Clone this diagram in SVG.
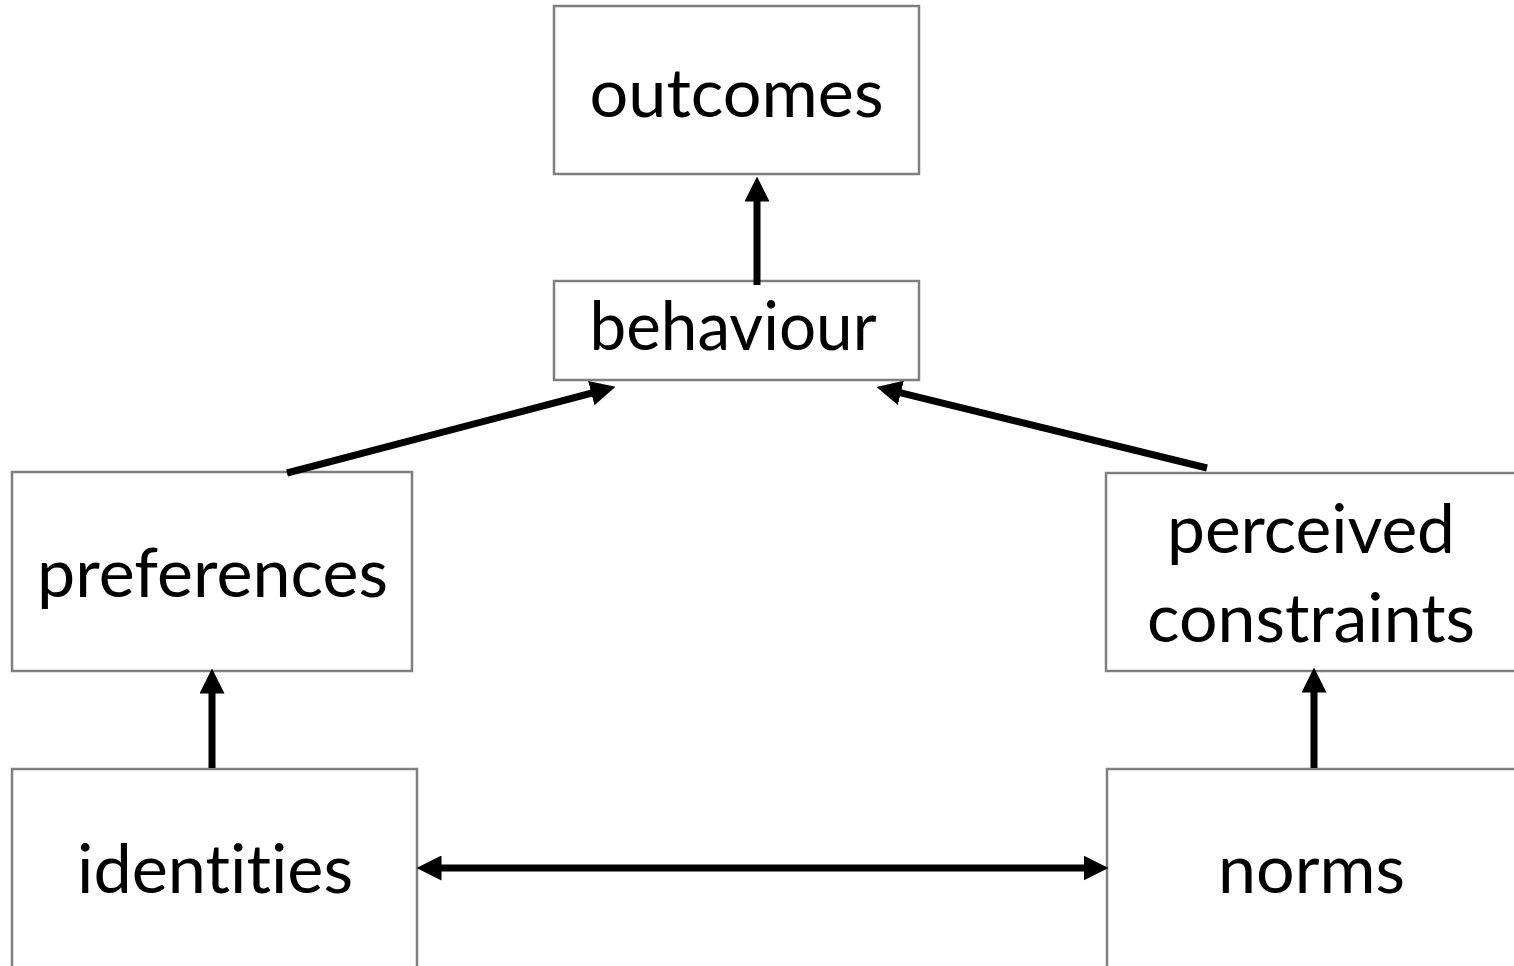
<svg xmlns="http://www.w3.org/2000/svg" width="1514" height="966" viewBox="0 0 1514 966">
<style>
.box{fill:#ffffff;stroke:#7f7f7f;stroke-width:2.5}
.lbl{font-family:Lato,"Open Sans","Liberation Sans",sans-serif;font-size:67px;fill:#000000;text-anchor:middle;font-variant-ligatures:none;font-feature-settings:"liga" 0,"clig" 0}
.con{stroke:#000000;stroke-width:7;fill:none}
</style>
<defs>
<marker id="ah" markerUnits="userSpaceOnUse" markerWidth="25" markerHeight="25" viewBox="0 0 24 24" refX="12" refY="12" orient="auto-start-reverse">
<path d="M0,0 L24,12 L0,24 z" fill="#000000"/>
</marker>
</defs>
<rect width="1514" height="966" fill="#ffffff"/>
<g id="outcomes"><rect class="box" x="554" y="6" width="365" height="168"/><text class="lbl" x="736.5" y="117" textLength="294" lengthAdjust="spacingAndGlyphs">outcomes</text></g>
<g id="behaviour"><rect class="box" x="554" y="281" width="365" height="99"/><text class="lbl" x="733" y="350" textLength="287" lengthAdjust="spacingAndGlyphs">behaviour</text></g>
<g id="preferences"><rect class="box" x="12" y="472" width="400" height="199"/><text class="lbl" x="212.5" y="597" textLength="351" lengthAdjust="spacingAndGlyphs">preferences</text></g>
<g id="perceived-constraints"><rect class="box" x="1106" y="473" width="420" height="198"/><text class="lbl" x="1311" y="553" textLength="288" lengthAdjust="spacingAndGlyphs">perceived</text><text class="lbl" x="1311" y="642" textLength="328" lengthAdjust="spacingAndGlyphs">constraints</text></g>
<g id="identities"><rect class="box" x="12" y="769" width="405" height="210"/><text class="lbl" x="215" y="893" textLength="276" lengthAdjust="spacingAndGlyphs">identities</text></g>
<g id="norms"><rect class="box" x="1107" y="769" width="420" height="210"/><text class="lbl" x="1311.5" y="893" textLength="187" lengthAdjust="spacingAndGlyphs">norms</text></g>
<g id="connectors">
<line class="con" x1="757" y1="285" x2="757" y2="189" marker-end="url(#ah)"/>
<line class="con" x1="287" y1="473" x2="603.4" y2="390" marker-end="url(#ah)"/>
<line class="con" x1="1207" y1="468" x2="888.7" y2="389.9" marker-end="url(#ah)"/>
<line class="con" x1="212" y1="768" x2="212" y2="681" marker-end="url(#ah)"/>
<line class="con" x1="1314" y1="768" x2="1314" y2="680" marker-end="url(#ah)"/>
<line class="con" x1="429" y1="868" x2="1096" y2="868" marker-start="url(#ah)" marker-end="url(#ah)"/>
</g>
</svg>
